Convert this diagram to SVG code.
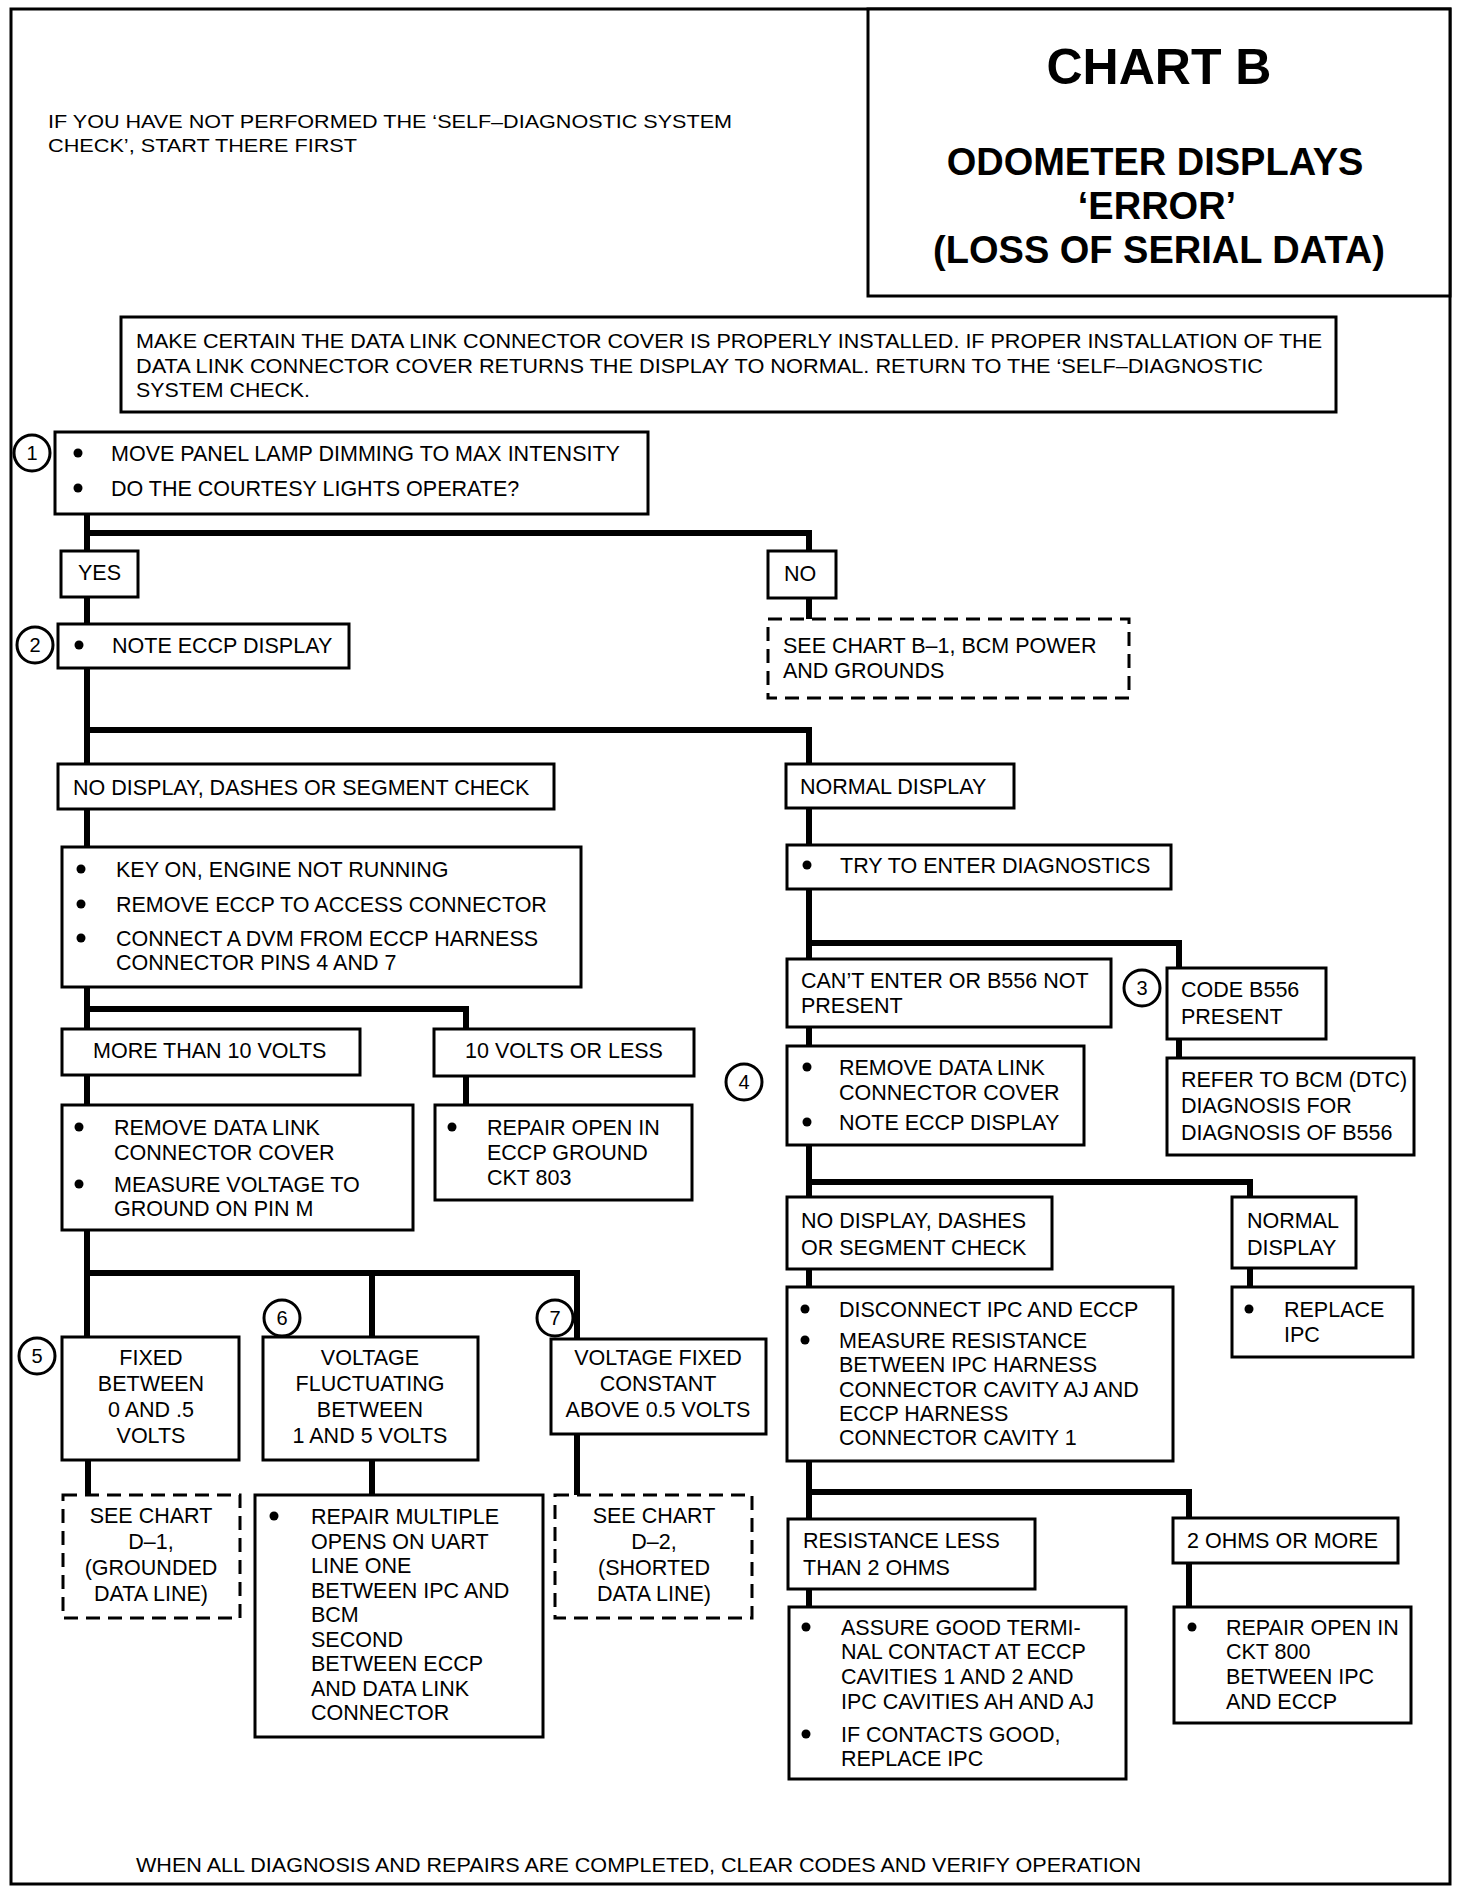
<svg xmlns="http://www.w3.org/2000/svg" width="1472" height="1894" viewBox="0 0 1472 1894">
<style>
text{font-family:"Liberation Sans",Arial,Helvetica,sans-serif;fill:#000}
.t{font-size:21.5px}
.s{font-size:20px}
.m{text-anchor:middle}
.h{font-weight:bold;text-anchor:middle}
.n{font-size:20px;text-anchor:middle}
.b{fill:#fff;stroke:#000;stroke-width:3}
.d{fill:#fff;stroke:#000;stroke-width:3;stroke-dasharray:14 8}
.c{fill:none;stroke:#000;stroke-width:6;stroke-linejoin:miter;stroke-linecap:square}
.o{fill:#fff;stroke:#000;stroke-width:3}
.u{fill:#000}
</style>
<rect id="frame" x="11" y="9" width="1439" height="1875" fill="#fff" stroke="#000" stroke-width="3"/>

<g id="title">
<rect class="b" x="868" y="9" width="582" height="287"/>
<text class="h" x="1159" y="84" font-size="50">CHART B</text>
<text class="h" x="1155" y="175" font-size="38">ODOMETER DISPLAYS</text>
<text class="h" x="1157" y="219" font-size="38">‘ERROR’</text>
<text class="h" x="1159" y="263" font-size="38">(LOSS OF SERIAL DATA)</text>
</g>

<g id="note">
<text x="48" y="128" textLength="684" lengthAdjust="spacingAndGlyphs" style="font-size:19px">IF YOU HAVE NOT PERFORMED THE ‘SELF–DIAGNOSTIC SYSTEM</text>
<text x="48" y="152" textLength="309" lengthAdjust="spacingAndGlyphs" style="font-size:19px">CHECK’, START THERE FIRST</text>
</g>

<g id="intro">
<rect class="b" x="121" y="317" width="1215" height="95"/>
<text class="s" x="136" y="348" textLength="1186" lengthAdjust="spacingAndGlyphs">MAKE CERTAIN THE DATA LINK CONNECTOR COVER IS PROPERLY INSTALLED. IF PROPER INSTALLATION OF THE</text>
<text class="s" x="136" y="373" textLength="1127" lengthAdjust="spacingAndGlyphs">DATA LINK CONNECTOR COVER RETURNS THE DISPLAY TO NORMAL. RETURN TO THE ‘SELF–DIAGNOSTIC</text>
<text class="s" x="136" y="397" textLength="174" lengthAdjust="spacingAndGlyphs">SYSTEM CHECK.</text>
</g>

<g id="connectors">
<path class="c" d="M87,514 V551 M87,533 H809 V551"/>
<path class="c" d="M87,597 V624"/>
<path class="c" d="M809,599 V619"/>
<path class="c" d="M87,668 V764 M87,730 H809 V764"/>
<path class="c" d="M87,809 V847"/>
<path class="c" d="M87,987 V1029 M87,1009 H466 V1029"/>
<path class="c" d="M87,1075 V1105"/>
<path class="c" d="M466,1076 V1105"/>
<path class="c" d="M87,1230 V1337 M87,1273 H577 V1339 M372,1273 V1337"/>
<path class="c" d="M88,1460 V1495"/>
<path class="c" d="M372,1460 V1495"/>
<path class="c" d="M577,1434 V1495"/>
<path class="c" d="M809,808 V845"/>
<path class="c" d="M809,889 V959 M809,943 H1179 V968"/>
<path class="c" d="M1179,1039 V1058"/>
<path class="c" d="M809,1027 V1046"/>
<path class="c" d="M809,1145 V1197 M809,1182 H1250 V1197"/>
<path class="c" d="M809,1269 V1287"/>
<path class="c" d="M1250,1268 V1287"/>
<path class="c" d="M809,1461 V1519 M809,1492 H1189 V1518"/>
<path class="c" d="M809,1589 V1607"/>
<path class="c" d="M1189,1563 V1607"/>
</g>

<g id="step1">
<circle class="o" cx="32" cy="453" r="18"/>
<text class="n" x="32" y="460">1</text>
<rect class="b" x="55" y="432" width="593" height="82"/>
<circle class="u" cx="78" cy="453" r="4.5"/>
<circle class="u" cx="78" cy="488" r="4.5"/>
<text class="t" x="111" y="461">MOVE PANEL LAMP DIMMING TO MAX INTENSITY</text>
<text class="t" x="111" y="496">DO THE COURTESY LIGHTS OPERATE?</text>
</g>

<g id="yes">
<rect class="b" x="61" y="551" width="77" height="46"/>
<text class="t" x="78" y="580">YES</text>
</g>

<g id="no">
<rect class="b" x="768" y="551" width="68" height="47"/>
<text class="t" x="784" y="581">NO</text>
</g>

<g id="seeB1">
<rect class="d" x="768" y="619" width="361" height="79"/>
<text class="t" x="783" y="653">SEE CHART B–1, BCM POWER</text>
<text class="t" x="783" y="678">AND GROUNDS</text>
</g>

<g id="step2">
<circle class="o" cx="35" cy="645" r="18"/>
<text class="n" x="35" y="652">2</text>
<rect class="b" x="58" y="624" width="291" height="44"/>
<circle class="u" cx="79" cy="645" r="4.5"/>
<text class="t" x="112" y="653">NOTE ECCP DISPLAY</text>
</g>

<g id="noDisplayL">
<rect class="b" x="58" y="764" width="496" height="45"/>
<text class="t" x="73" y="795">NO DISPLAY, DASHES OR SEGMENT CHECK</text>
</g>

<g id="normalDisplay">
<rect class="b" x="786" y="764" width="228" height="44"/>
<text class="t" x="800" y="794">NORMAL DISPLAY</text>
</g>

<g id="keyOn">
<rect class="b" x="62" y="847" width="519" height="140"/>
<circle class="u" cx="81" cy="869" r="4.5"/>
<circle class="u" cx="81" cy="904" r="4.5"/>
<circle class="u" cx="81" cy="938" r="4.5"/>
<text class="t" x="116" y="877">KEY ON, ENGINE NOT RUNNING</text>
<text class="t" x="116" y="912">REMOVE ECCP TO ACCESS CONNECTOR</text>
<text class="t" x="116" y="946">CONNECT A DVM FROM ECCP HARNESS</text>
<text class="t" x="116" y="970">CONNECTOR PINS 4 AND 7</text>
</g>

<g id="moreThan10">
<rect class="b" x="62" y="1029" width="298" height="46"/>
<text class="t" x="93" y="1058">MORE THAN 10 VOLTS</text>
</g>

<g id="tenOrLess">
<rect class="b" x="434" y="1029" width="260" height="47"/>
<text class="t" x="465" y="1058">10 VOLTS OR LESS</text>
</g>

<g id="removeCoverL">
<rect class="b" x="62" y="1105" width="351" height="125"/>
<circle class="u" cx="79" cy="1127" r="4.5"/>
<circle class="u" cx="79" cy="1184" r="4.5"/>
<text class="t" x="114" y="1135">REMOVE DATA LINK</text>
<text class="t" x="114" y="1160">CONNECTOR COVER</text>
<text class="t" x="114" y="1192">MEASURE VOLTAGE TO</text>
<text class="t" x="114" y="1216">GROUND ON PIN M</text>
</g>

<g id="repair803">
<rect class="b" x="435" y="1105" width="257" height="95"/>
<circle class="u" cx="452" cy="1127" r="4.5"/>
<text class="t" x="487" y="1135">REPAIR OPEN IN</text>
<text class="t" x="487" y="1160">ECCP GROUND</text>
<text class="t" x="487" y="1185">CKT 803</text>
</g>

<g id="step5">
<circle class="o" cx="37" cy="1356" r="18"/>
<text class="n" x="37" y="1363">5</text>
<rect class="b" x="62" y="1337" width="177" height="123"/>
<text class="t m" x="151" y="1365">FIXED</text>
<text class="t m" x="151" y="1391">BETWEEN</text>
<text class="t m" x="151" y="1417">0 AND .5</text>
<text class="t m" x="151" y="1443">VOLTS</text>
</g>

<g id="step6">
<circle class="o" cx="282" cy="1318" r="18"/>
<text class="n" x="282" y="1325">6</text>
<rect class="b" x="263" y="1337" width="215" height="123"/>
<text class="t m" x="370" y="1365">VOLTAGE</text>
<text class="t m" x="370" y="1391">FLUCTUATING</text>
<text class="t m" x="370" y="1417">BETWEEN</text>
<text class="t m" x="370" y="1443">1 AND 5 VOLTS</text>
</g>

<g id="step7">
<circle class="o" cx="555" cy="1318" r="18"/>
<text class="n" x="555" y="1325">7</text>
<rect class="b" x="551" y="1339" width="215" height="95"/>
<text class="t m" x="658" y="1365">VOLTAGE FIXED</text>
<text class="t m" x="658" y="1391">CONSTANT</text>
<text class="t m" x="658" y="1417">ABOVE 0.5 VOLTS</text>
</g>

<g id="seeD1">
<rect class="d" x="63" y="1495" width="177" height="123"/>
<text class="t m" x="151" y="1523">SEE CHART</text>
<text class="t m" x="151" y="1549">D–1,</text>
<text class="t m" x="151" y="1575">(GROUNDED</text>
<text class="t m" x="151" y="1601">DATA LINE)</text>
</g>

<g id="repairMultiple">
<rect class="b" x="255" y="1495" width="288" height="242"/>
<circle class="u" cx="274" cy="1516" r="4.5"/>
<text class="t" x="311" y="1524">REPAIR  MULTIPLE</text>
<text class="t" x="311" y="1549">OPENS ON UART</text>
<text class="t" x="311" y="1573">LINE ONE</text>
<text class="t" x="311" y="1598">BETWEEN IPC AND</text>
<text class="t" x="311" y="1622">BCM</text>
<text class="t" x="311" y="1647">SECOND</text>
<text class="t" x="311" y="1671">BETWEEN ECCP</text>
<text class="t" x="311" y="1696">AND DATA LINK</text>
<text class="t" x="311" y="1720">CONNECTOR</text>
</g>

<g id="seeD2">
<rect class="d" x="555" y="1495" width="197" height="123"/>
<text class="t m" x="654" y="1523">SEE CHART</text>
<text class="t m" x="654" y="1549">D–2,</text>
<text class="t m" x="654" y="1575">(SHORTED</text>
<text class="t m" x="654" y="1601">DATA LINE)</text>
</g>

<g id="tryDiag">
<rect class="b" x="787" y="845" width="384" height="44"/>
<circle class="u" cx="807" cy="865" r="4.5"/>
<text class="t" x="840" y="873">TRY TO ENTER DIAGNOSTICS</text>
</g>

<g id="cantEnter">
<rect class="b" x="787" y="959" width="324" height="68"/>
<text class="t" x="801" y="988">CAN’T ENTER OR B556 NOT</text>
<text class="t" x="801" y="1013">PRESENT</text>
</g>

<g id="step3">
<circle class="o" cx="1142" cy="988" r="18"/>
<text class="n" x="1142" y="995">3</text>
<rect class="b" x="1167" y="968" width="159" height="71"/>
<text class="t" x="1181" y="997">CODE B556</text>
<text class="t" x="1181" y="1024">PRESENT</text>
</g>

<g id="referBCM">
<rect class="b" x="1167" y="1058" width="247" height="97"/>
<text class="t" x="1181" y="1087">REFER TO BCM (DTC)</text>
<text class="t" x="1181" y="1113">DIAGNOSIS FOR</text>
<text class="t" x="1181" y="1140">DIAGNOSIS OF B556</text>
</g>

<g id="step4">
<circle class="o" cx="744" cy="1082" r="18"/>
<text class="n" x="744" y="1089">4</text>
<rect class="b" x="787" y="1046" width="297" height="99"/>
<circle class="u" cx="807" cy="1067" r="4.5"/>
<circle class="u" cx="807" cy="1122" r="4.5"/>
<text class="t" x="839" y="1075">REMOVE  DATA LINK</text>
<text class="t" x="839" y="1100">CONNECTOR COVER</text>
<text class="t" x="839" y="1130">NOTE ECCP DISPLAY</text>
</g>

<g id="noDisplayR">
<rect class="b" x="787" y="1197" width="265" height="72"/>
<text class="t" x="801" y="1228">NO DISPLAY, DASHES</text>
<text class="t" x="801" y="1255">OR SEGMENT CHECK</text>
</g>

<g id="normalDisplayR">
<rect class="b" x="1232" y="1197" width="124" height="71"/>
<text class="t" x="1247" y="1228">NORMAL</text>
<text class="t" x="1247" y="1255">DISPLAY</text>
</g>

<g id="replaceIPC">
<rect class="b" x="1232" y="1287" width="181" height="70"/>
<circle class="u" cx="1249" cy="1309" r="4.5"/>
<text class="t" x="1284" y="1317">REPLACE</text>
<text class="t" x="1284" y="1342">IPC</text>
</g>

<g id="disconnect">
<rect class="b" x="787" y="1287" width="386" height="174"/>
<circle class="u" cx="805" cy="1309" r="4.5"/>
<circle class="u" cx="805" cy="1340" r="4.5"/>
<text class="t" x="839" y="1317">DISCONNECT IPC AND ECCP</text>
<text class="t" x="839" y="1348">MEASURE RESISTANCE</text>
<text class="t" x="839" y="1372">BETWEEN IPC HARNESS</text>
<text class="t" x="839" y="1397">CONNECTOR CAVITY AJ AND</text>
<text class="t" x="839" y="1421">ECCP HARNESS</text>
<text class="t" x="839" y="1445">CONNECTOR CAVITY 1</text>
</g>

<g id="lessThan2">
<rect class="b" x="788" y="1519" width="247" height="70"/>
<text class="t" x="803" y="1548">RESISTANCE LESS</text>
<text class="t" x="803" y="1575">THAN 2 OHMS</text>
</g>

<g id="twoOrMore">
<rect class="b" x="1173" y="1518" width="225" height="45"/>
<text class="t" x="1187" y="1548">2 OHMS OR MORE</text>
</g>

<g id="assure">
<rect class="b" x="789" y="1607" width="337" height="172"/>
<circle class="u" cx="806" cy="1627" r="4.5"/>
<circle class="u" cx="806" cy="1734" r="4.5"/>
<text class="t" x="841" y="1635">ASSURE GOOD TERMI-</text>
<text class="t" x="841" y="1659">NAL CONTACT AT ECCP</text>
<text class="t" x="841" y="1684">CAVITIES 1 AND 2 AND</text>
<text class="t" x="841" y="1709">IPC CAVITIES AH AND AJ</text>
<text class="t" x="841" y="1742">IF CONTACTS GOOD,</text>
<text class="t" x="841" y="1766">REPLACE IPC</text>
</g>

<g id="repair800">
<rect class="b" x="1174" y="1607" width="237" height="116"/>
<circle class="u" cx="1192" cy="1627" r="4.5"/>
<text class="t" x="1226" y="1635">REPAIR OPEN IN</text>
<text class="t" x="1226" y="1659">CKT 800</text>
<text class="t" x="1226" y="1684">BETWEEN IPC</text>
<text class="t" x="1226" y="1709">AND ECCP</text>
</g>

<g id="footer">
<text class="s" x="136" y="1872" textLength="1005" lengthAdjust="spacingAndGlyphs">WHEN ALL DIAGNOSIS AND REPAIRS ARE COMPLETED, CLEAR CODES AND VERIFY OPERATION</text>
</g>
</svg>
